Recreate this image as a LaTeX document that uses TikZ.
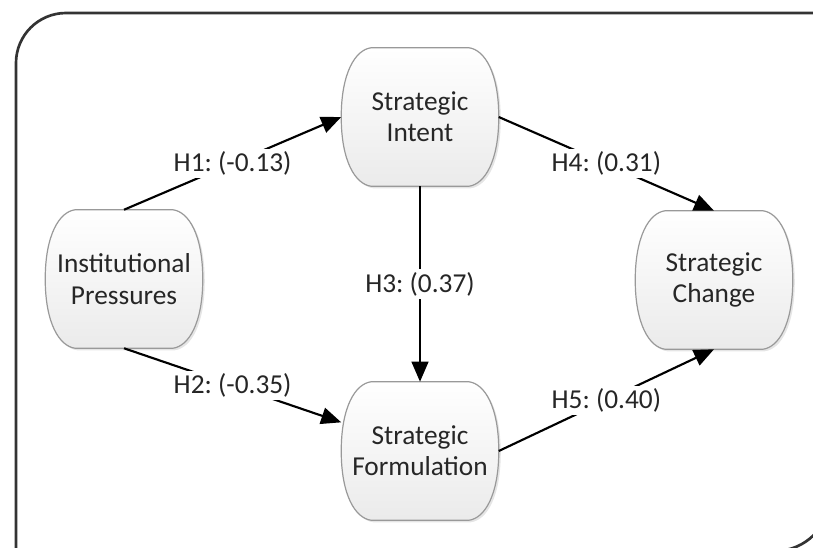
\documentclass[tikz,border=0pt]{standalone}
\usepackage{fontspec}
\setmainfont{Carlito}
\usetikzlibrary{arrows.meta,calc,shadows}
\pgfdeclarelayer{background}
\pgfsetlayers{background,main}
\frenchspacing

\tikzset{
	factor/.style={rectangle, minimum width=117.75pt, minimum height=103.5pt,
		inner sep=0pt, align=center, text=black!85,
		font=\fontsize{20.5}{23.5}\selectfont},
	factorshape/.style={draw=black!40, line width=0.9pt,
		top color=white, bottom color=black!8,
		drop shadow={shadow xshift=1.5pt, shadow yshift=-1.5pt, fill=black!20}},
	hyp/.style={fill=white, inner sep=2pt, text=black!85,
		font=\fontsize{20.5}{23.5}\selectfont}
}

\begin{document}
\begin{tikzpicture}[x=0.75pt, y=-0.75pt]
		\useasboundingbox (0,0) rectangle (813,547);
		\clip (0,0) rectangle (813,547);
		% outer frame
		\draw[black!80, line width=2pt] (16,600) -- (16,63)
			.. controls (16,35.4) and (38.4,13) .. (66,13) -- (830,13) -- (830,496)
			.. controls (830,526.4) and (805.4,551) .. (775,551) -- (16,551);
		\begin{scope}[every node/.style={factor}]
			\node (ip) at(124,279) {Institutional\\Pressures};
			\node (si) at(420,117) {Strategic\\Intent};
			\node (sf) at(420,451) {Strategic\\Formulation};
			\node (sc) at(714,280) {Strategic\\Change};
		\end{scope}
		% bulging outlines behind the texts
		\begin{pgfonlayer}{background}
			\foreach \n in {ip,si,sf,sc}
				\path[factorshape] ($(\n.north east)+(-30,0)$)
					.. controls +(16,2) and +(0,-44) .. (\n.east)
					.. controls +(0,44) and +(16,-2) .. ($(\n.south east)+(-30,0)$)
					-- ($(\n.south west)+(30,0)$)
					.. controls +(-16,-2) and +(0,44) .. (\n.west)
					.. controls +(0,-44) and +(-16,2) .. ($(\n.north west)+(30,0)$)
					-- cycle;
		\end{pgfonlayer}
		\begin{scope}[-{Triangle[length=15pt,width=12.5pt]}, line width=1.6pt]
			\path (ip.north) edge node [hyp] {H1: (-0.13)} (si.west);
			\path (ip.south) edge node [hyp] {H2: (-0.35)} (sf.160);
			\path (si.south) edge node [hyp] {H3: (0.37)} (sf.north);
			\path (si.east) edge node [hyp] {H4: (0.31)} (sc.north);
			\path (sf.east) edge node [hyp] {H5: (0.40)} (sc.south);
		\end{scope}
	\end{tikzpicture}
\end{document}
